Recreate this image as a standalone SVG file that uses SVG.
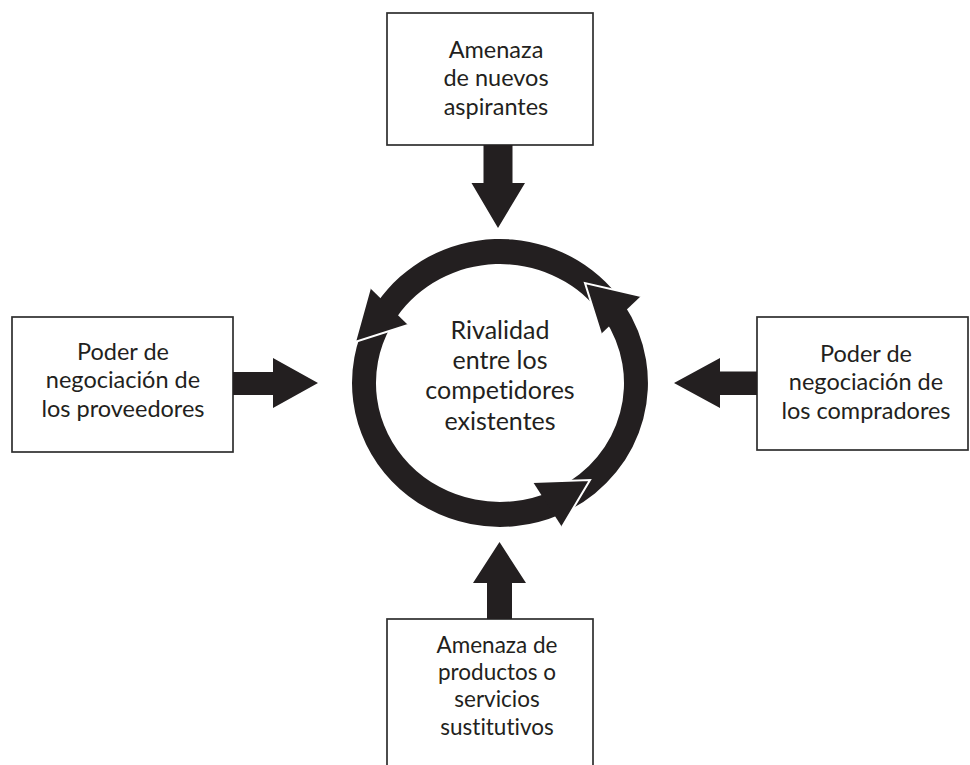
<svg xmlns="http://www.w3.org/2000/svg" width="970" height="765" viewBox="0 0 970 765">
<style>
  .box { fill: #ffffff; stroke: #2e2e2e; stroke-width: 1.7; }
  .lbl { font-family: Lato, "Open Sans", "DejaVu Sans", sans-serif; font-size: 23.5px; fill: #231f20; text-anchor: middle; font-variant-ligatures: none; font-feature-settings: "liga" 0, "clig" 0; }
  .sm { font-size: 22.5px; }
  .big { font-size: 25px; }
  .blk { fill: #231f20; stroke: none; }
  .edge { fill: none; stroke: #ffffff; stroke-width: 2; stroke-linejoin: miter; }
</style>
<rect width="970" height="765" fill="#ffffff"/>

<g id="node-nuevos">
  <rect class="box" x="387" y="13" width="206" height="132"/>
  <text class="lbl" x="496" y="58"><tspan x="496">Amenaza</tspan><tspan x="496" dy="28.4">de nuevos</tspan><tspan x="496" dy="28.4">aspirantes</tspan></text>
</g>

<g id="node-proveedores">
  <rect class="box" x="12" y="317" width="221" height="135"/>
  <text class="lbl" x="123" y="360"><tspan x="123">Poder de</tspan><tspan x="123" dy="28.4">negociación de</tspan><tspan x="123" dy="28.4">los proveedores</tspan></text>
</g>

<g id="node-compradores">
  <rect class="box" x="757" y="317" width="211" height="133"/>
  <text class="lbl" x="866" y="362"><tspan x="866">Poder de</tspan><tspan x="866" dy="28.4">negociación de</tspan><tspan x="866" dy="28.4">los compradores</tspan></text>
</g>

<g id="node-sustitutos">
  <rect class="box" x="387" y="619" width="206" height="160"/>
  <text class="lbl sm" x="497" y="653"><tspan x="497">Amenaza de</tspan><tspan x="497" dy="27.2">productos o</tspan><tspan x="497" dy="27.2">servicios</tspan><tspan x="497" dy="27.2">sustitutivos</tspan></text>
</g>

<g id="node-rivalidad">
  <path class="blk" d="M616.6,294.3 A148,144 0 0 0 377.3,302.5 L397.2,316.5 A124,119 0 0 1 597.7,309.7 Z"/>
  <path class="blk" d="M569.5,510.1 A148,144 0 0 0 624.1,304.6 L604,318.2 A124,119 0 0 1 558.2,488.1 Z"/>
  <path class="blk" d="M369.3,315.4 A148,144 0 0 0 560.2,514.5 L550.4,491.7 A124,119 0 0 1 390.5,327.1 Z"/>
  <polygon class="blk" points="370,288 355,342 408,325"/>
  <polygon class="blk" points="641,296 585,283 601,334"/>
  <polygon class="blk" points="533,482 590,480 562,527"/>
  <polyline class="edge" points="370,288 355,342 408,325"/>
  <polyline class="edge" points="641,296 585,283 601,334"/>
  <polyline class="edge" points="533,482 590,480 562,527"/>
  <text class="lbl big" x="500" y="339"><tspan x="500">Rivalidad</tspan><tspan x="500" dy="30.2">entre los</tspan><tspan x="500" dy="30.2">competidores</tspan><tspan x="500" dy="30.2">existentes</tspan></text>
</g>

<g id="connectors">
  <path class="blk" d="M483.5,145 L512.5,145 L512.5,183 L525,183 L498,228 L471.5,183 L483.5,183 Z"/>
  <path class="blk" d="M233,372 L273,372 L273,358 L318,383 L273,408 L273,395 L233,395 Z"/>
  <path class="blk" d="M757,371.5 L720,371.5 L720,358 L674,383 L720,408 L720,395 L757,395 Z"/>
  <path class="blk" d="M487,619 L487,583 L473,583 L499.5,542 L526,583 L512,583 L512,619 Z"/>
</g>
</svg>
